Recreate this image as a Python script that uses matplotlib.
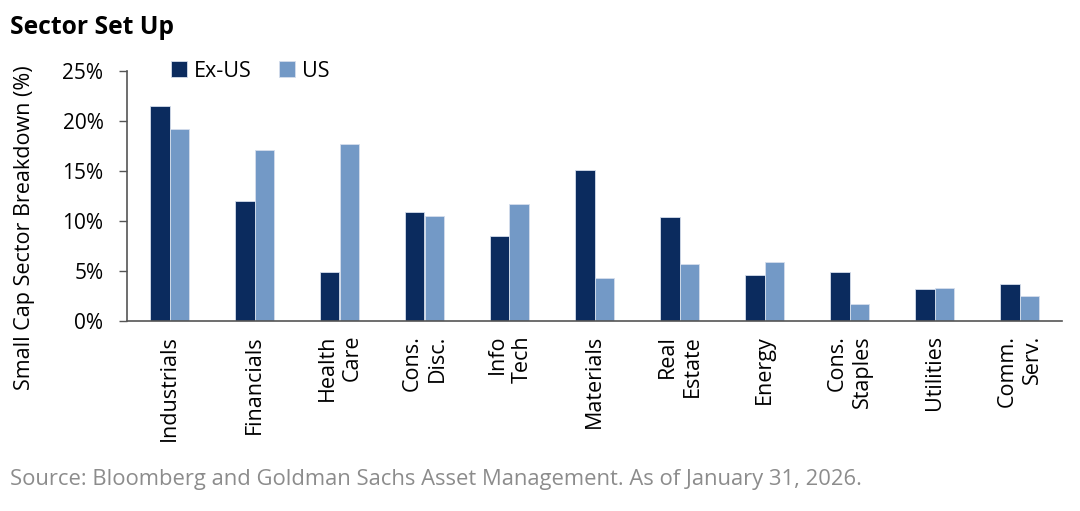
import matplotlib
matplotlib.use("Agg")
import matplotlib.pyplot as plt
import numpy as np
from matplotlib.ticker import FuncFormatter

categories = ["Industrials", "Financials", "Health\nCare", "Cons.\nDisc.", "Info\nTech",
              "Materials", "Real\nEstate", "Energy", "Cons.\nStaples", "Utilities", "Comm.\nServ."]
ex_us = [21.5, 12.0, 4.9, 10.9, 8.5, 15.1, 10.4, 4.6, 4.9, 3.2, 3.7]
us = [19.2, 17.1, 17.7, 10.5, 11.7, 4.3, 5.7, 5.9, 1.7, 3.3, 2.5]
yticks = [0, 5, 10, 15, 20, 25]

plt.rcParams['font.family'] = ['Open Sans', 'DejaVu Sans']

fig = plt.figure(figsize=(10.8, 5.11), dpi=100)
ax = fig.add_axes([127/1080, 1-321/511, 935/1080, 250/511])

x = np.arange(len(categories))
w = 0.235
c_ex = "#0b2b5e"
c_us = "#7399c6"
ax.bar(x - w/2, ex_us, width=w, color=c_ex, edgecolor="#d5deec", linewidth=0.6, label="Ex-US")
ax.bar(x + w/2, us, width=w, color=c_us, edgecolor="#d5deec", linewidth=0.6, label="US")

ax.set_xlim(-0.5, len(categories) - 0.5)
ax.set_ylim(0, 25)
ax.set_yticks(yticks)
ax.yaxis.set_major_formatter(FuncFormatter(lambda v, p: f"{v:.0f}%"))
ax.tick_params(axis='y', labelsize=15, length=6, width=1, color="#555555", pad=11)
ax.set_xticks(x)
ax.set_xticklabels(categories, rotation=90, fontsize=15.5, va='top', ha='center',
                   multialignment='right', linespacing=1.25)
ax.tick_params(axis='x', length=0, pad=10)

for s in ['top', 'right']:
    ax.spines[s].set_visible(False)
for s in ['left', 'bottom']:
    ax.spines[s].set_color("#555555")
    ax.spines[s].set_linewidth(1.2)

fig.text(10/1080, 1-27/511, "Sector Set Up", fontsize=17.7, fontweight='bold', va='center', ha='left')
fig.text(25/1080, 1-228/511, "Small Cap Sector Breakdown (%)", rotation=90, fontsize=15.5,
         va='center', ha='center')
fig.text(10/1080, 1-480/511, "Source: Bloomberg and Goldman Sachs Asset Management. As of January 31, 2026.",
         fontsize=15.8, color="#8c8c8c", va='center', ha='left')

leg = fig.legend(loc='center left', bbox_to_anchor=(171/1080, 1-71/511), ncol=2, frameon=False,
                 fontsize=15.5, handlelength=0.75, handleheight=0.75, handletextpad=0.3,
                 columnspacing=1.3, borderaxespad=0, borderpad=0)

fig.savefig("out.png", dpi=100)
